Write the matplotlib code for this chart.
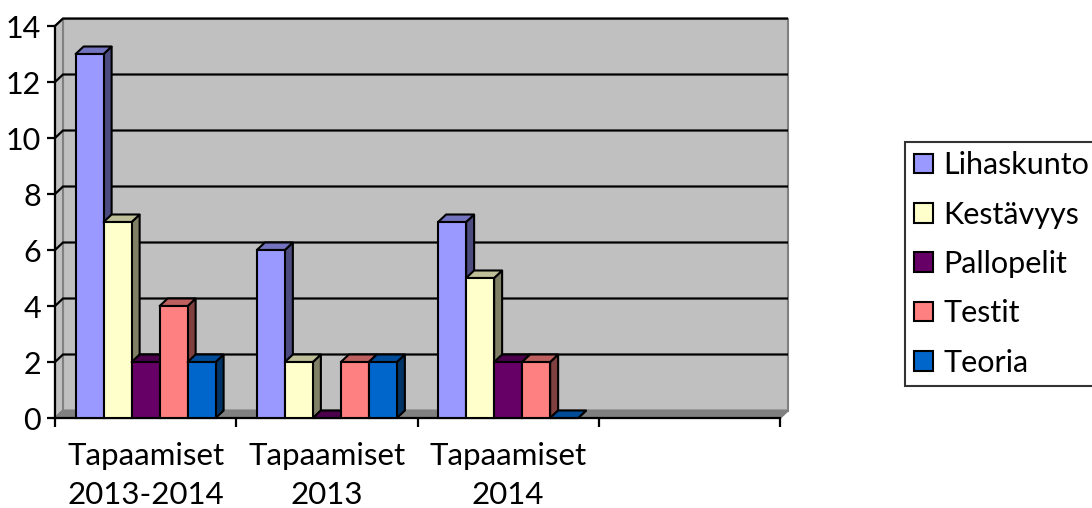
import matplotlib.pyplot as plt
from matplotlib.patches import Polygon, Patch

plt.rcParams['font.family'] = ['Lato', 'DejaVu Sans']

# chart data
categories = ["Tapaamiset\n2013-2014", "Tapaamiset\n2013", "Tapaamiset\n2014", ""]
series = ["Lihaskunto", "Kestävyys", "Pallopelit", "Testit", "Teoria"]
lihaskunto = [13, 6, 7]
kestavyys = [7, 2, 5]
pallopelit = [2, 0, 2]
testit = [4, 2, 2]
teoria = [2, 2, 0]
values = [lihaskunto, kestavyys, pallopelit, testit, teoria]
y_ticks = [0, 2, 4, 6, 8, 10, 12, 14]

# front / side / top shades (Excel 2003 style)
front = ["#9999FF", "#FFFFCC", "#660066", "#FF8080", "#0066CC"]
side = ["#4C4C80", "#808066", "#330033", "#804040", "#003366"]
top = ["#7373BF", "#BFBF99", "#4C004C", "#BF6060", "#004C99"]

W, H = 1092, 508
fig = plt.figure(figsize=(W / 100, H / 100), dpi=100)
fig.set_facecolor("white")
ax = fig.add_axes([55 / W, 90 / H, 725 / W, 392 / H])

n_cat = len(categories)
ymax = y_ticks[-1]
ax.set_xlim(0, n_cat)
ax.set_ylim(0, ymax)

# 3d offsets in data units
px_x = 725 / n_cat
px_y = 392 / ymax
dx = 8 / px_x
dy = 7.5 / px_y

wall_kw = dict(edgecolor="#808080", linewidth=1.5, clip_on=False)
# back wall, left wall, floor
ax.add_patch(Polygon([(dx, dy), (n_cat + dx, dy), (n_cat + dx, ymax + dy), (dx, ymax + dy)],
                     facecolor="#C0C0C0", zorder=0, **wall_kw))
ax.add_patch(Polygon([(0, 0), (dx, dy), (dx, ymax + dy), (0, ymax)],
                     facecolor="#C0C0C0", zorder=0.5, **wall_kw))
ax.add_patch(Polygon([(0, 0), (n_cat, 0), (n_cat + dx, dy), (dx, dy)],
                     facecolor="#808080", zorder=1, **wall_kw))

# gridlines on the walls
for v in y_ticks[1:]:
    ax.plot([0, dx, n_cat + dx], [v, v + dy, v + dy], color="black", lw=1.6,
            zorder=1.5, clip_on=False, solid_capstyle="butt")

bw = 0.1545
start = (1 - bw * len(series)) / 2
z = 3
for ci in range(len(lihaskunto)):
    for si, vals in enumerate(values):
        h = vals[ci]
        x0 = ci + start + si * bw
        x1 = x0 + bw
        ax.add_patch(Polygon([(x1, 0), (x1 + dx, dy), (x1 + dx, h + dy), (x1, h)],
                             facecolor=side[si], edgecolor="black", lw=1.5,
                             zorder=z, clip_on=False))
        ax.add_patch(Polygon([(x0, h), (x1, h), (x1 + dx, h + dy), (x0 + dx, h + dy)],
                             facecolor=top[si], edgecolor="black", lw=1.5,
                             zorder=z + 0.1, clip_on=False, joinstyle="round"))
        ax.bar(x0, h, width=bw, align="edge", color=front[si], edgecolor="black",
               linewidth=1.5, zorder=z + 0.2, clip_on=False)
        z += 1

for s in ["top", "right"]:
    ax.spines[s].set_visible(False)
for s in ["left", "bottom"]:
    ax.spines[s].set_color("black")
    ax.spines[s].set_linewidth(1.6)
    ax.spines[s].set_zorder(2)

ax.set_yticks(y_ticks)
ax.tick_params(axis="y", length=6, width=1.6, pad=4, labelsize=22)
ax.set_xticks(range(n_cat + 1))
ax.set_xticklabels([])
ax.tick_params(axis="x", which="major", length=6.5, width=1.6)
ax.set_xticks([i + 0.5 for i in range(n_cat)], minor=True)
ax.set_xticklabels(categories, minor=True, fontsize=22.5, linespacing=1.5)
ax.tick_params(axis="x", which="minor", length=0, pad=17)

handles = [Patch(facecolor=c, edgecolor="black", linewidth=1.5) for c in front]
leg = fig.legend(handles, series, loc="upper left", bbox_to_anchor=(905 / W, 1 - 142 / H),
                 fontsize=22, frameon=True, fancybox=False, edgecolor="black",
                 borderpad=0.3, handlelength=0.62, handleheight=0.62,
                 handletextpad=0.33, labelspacing=0.7, borderaxespad=0)
leg.get_frame().set_linewidth(1.5)

fig.savefig("out.png", dpi=100)
